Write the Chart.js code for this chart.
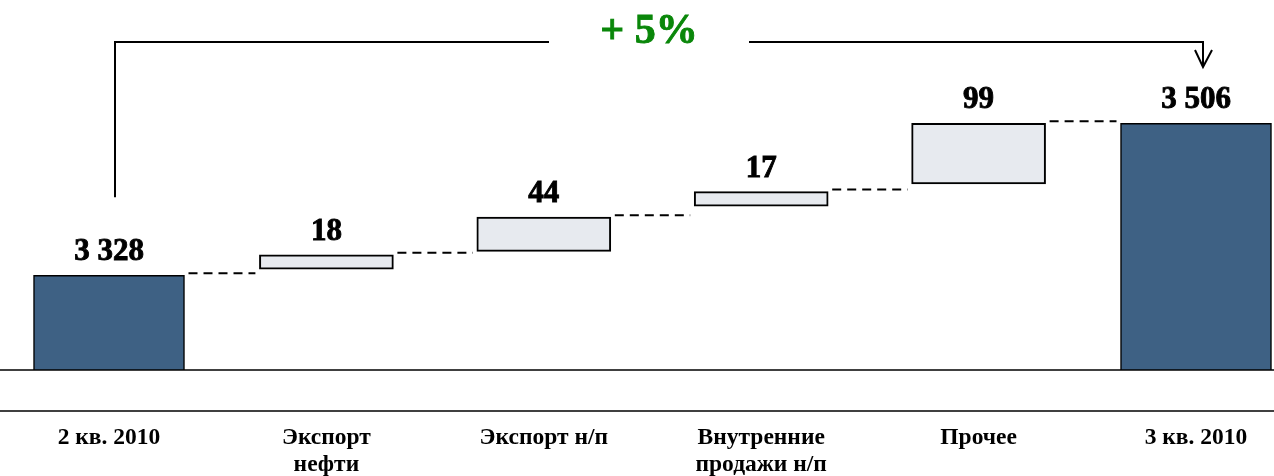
<!DOCTYPE html>
<html>
<head>
<meta charset="utf-8">
<script src="https://cdn.jsdelivr.net/npm/chart.js@4.4.0/dist/chart.umd.min.js"></script>
<style>
    html, body { margin: 0; padding: 0; background: #fff; }
    #wrap { width: 1274px; height: 476px; }
</style>
</head>
<body>
<div id="wrap"><canvas id="bridgeChart" width="1274" height="476"></canvas></div>
<script>
// Bridge (waterfall) chart: 2Q 2010 -> 3Q 2010

const categories = [
    ['2 кв. 2010'],
    ['Экспорт', 'нефти'],
    ['Экспорт н/п'],
    ['Внутренние', 'продажи н/п'],
    ['Прочее'],
    ['3 кв. 2010']
];
const totals = [3328, null, null, null, null, 3506];
const changes = [null, 18, 44, 17, 99, null];
// where the floating bars sit in the picture
const changeFrom = [null, 3335, 3356, 3409, 3435, null];
const changeTo = [null, 3352, 3396, 3426, 3506, null];
const growthLabel = '+ 5%';
const yMin = 3217;
const yMax = 3627;

const SERIF = '"Liberation Serif", "Times New Roman", serif';

function fmt(v) {
    return String(v).replace(/\B(?=(\d{3})+(?!\d))/g, ' ');
}

// heavier text: fill plus a thin outline in the same colour
function heavyText(ctx, text, x, y, color) {
    ctx.fillStyle = color;
    ctx.strokeStyle = color;
    ctx.lineWidth = 0.9;
    ctx.fillText(text, x, y);
    ctx.strokeText(text, x, y);
}

const bridgePlugin = {
    id: 'bridge',
    afterDatasetsDraw(chart) {
        const ctx = chart.ctx;
        const area = chart.chartArea;
        const totalBars = chart.getDatasetMeta(0).data;
        const changeBars = chart.getDatasetMeta(1).data;
        const bars = categories.map((c, i) => totals[i] !== null ? totalBars[i] : changeBars[i]);
        const values = categories.map((c, i) => totals[i] !== null ? totals[i] : changes[i]);

        ctx.save();

        // base line and the rule above the labels, full width
        ctx.strokeStyle = '#000';
        ctx.lineWidth = 1.5;
        [area.bottom, area.bottom + 41].forEach(y => {
            ctx.beginPath();
            ctx.moveTo(0, y);
            ctx.lineTo(chart.width, y);
            ctx.stroke();
        });

        // dashed connectors
        ctx.lineWidth = 2;
        ctx.setLineDash([9, 6]);
        for (let i = 0; i < bars.length - 1; i++) {
            const a = bars[i];
            const b = bars[i + 1];
            const y = a.y - 2;
            ctx.beginPath();
            ctx.moveTo(a.x + a.width / 2 + 4, y);
            ctx.lineTo(b.x - b.width / 2 - 4, y);
            ctx.stroke();
        }
        ctx.setLineDash([]);

        // value labels
        ctx.font = 'bold 31px ' + SERIF;
        ctx.textAlign = 'center';
        ctx.textBaseline = 'alphabetic';
        bars.forEach((bar, i) => {
            heavyText(ctx, fmt(values[i]), bar.x, bar.y - 15, '#000');
        });

        // growth bracket with arrow
        const first = bars[0];
        const last = bars[bars.length - 1];
        const x0 = first.x + 6;
        const x1 = last.x + 7;
        const top = area.top + 22;
        const mid = (x0 + x1) / 2 - 10;
        const gap = 100;

        ctx.strokeStyle = '#000';
        ctx.lineWidth = 2;
        ctx.beginPath();
        ctx.moveTo(x0, first.y - 78);
        ctx.lineTo(x0, top);
        ctx.lineTo(mid - gap, top);
        ctx.moveTo(mid + gap, top);
        ctx.lineTo(x1, top);
        ctx.lineTo(x1, top + 25);
        ctx.moveTo(x1 - 8, top + 8);
        ctx.lineTo(x1, top + 25);
        ctx.lineTo(x1 + 9, top + 8);
        ctx.stroke();

        ctx.font = 'bold 42px ' + SERIF;
        heavyText(ctx, growthLabel, mid, top + 1, '#0a870a');

        ctx.restore();
    }
};

new Chart(document.getElementById('bridgeChart'), {
    type: 'bar',
    data: {
        labels: categories,
        datasets: [
            {
                label: 'Итог',
                data: totals,
                base: yMin,
                backgroundColor: '#3e6184',
                borderColor: '#000',
                borderWidth: 1.5,
                barThickness: 151,
                grouped: false,
                clip: false
            },
            {
                label: 'Изменение',
                data: changeFrom.map((v, i) => v === null ? null : [v, changeTo[i]]),
                backgroundColor: '#e7eaef',
                borderColor: '#000',
                borderWidth: 2,
                borderSkipped: false,
                barThickness: 134,
                grouped: false,
                clip: false
            }
        ]
    },
    options: {
        responsive: false,
        devicePixelRatio: 1,
        animation: false,
        layout: {
            padding: { left: 109, right: 78, top: 20, bottom: 0 }
        },
        plugins: {
            legend: { display: false },
            tooltip: { enabled: false }
        },
        scales: {
            x: {
                offset: false,
                // grid hidden, tick length only pushes the labels down
                grid: { display: false, drawTicks: true, tickLength: 54 },
                border: { display: false },
                ticks: {
                    color: '#000',
                    padding: 0,
                    maxRotation: 0,
                    autoSkip: false,
                    font: { family: SERIF, size: 23.5, weight: 'bold', lineHeight: 1.15 }
                },
                afterFit(scale) {
                    scale.height = 106;
                }
            },
            y: {
                display: false,
                min: yMin,
                max: yMax
            }
        }
    },
    plugins: [bridgePlugin]
});
</script>
</body>
</html>
